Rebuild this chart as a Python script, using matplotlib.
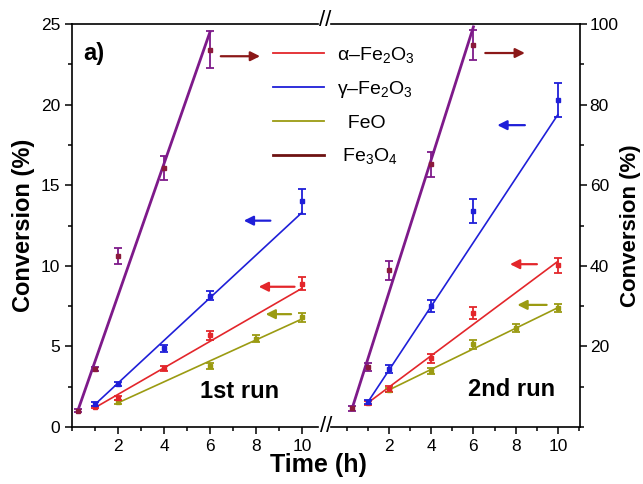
import numpy as np
import matplotlib.pyplot as plt
from matplotlib.lines import Line2D
from matplotlib.ticker import MultipleLocator

plt.rcParams['font.family'] = ['Liberation Sans', 'DejaVu Sans']
plt.rcParams['mathtext.fontset'] = 'custom'
plt.rcParams['mathtext.rm'] = 'Liberation Sans'
plt.rcParams['mathtext.default'] = 'rm'

# ---- 1st run (left axis, conversion %) ----
t1_fe3o4 = [0.25, 1, 2, 4, 6]
c1_fe3o4 = [1.0, 3.6, 10.6, 16.05, 23.4]
e1_fe3o4 = [0.1, 0.15, 0.5, 0.75, 1.15]
t1_gamma = [1, 2, 4, 6, 10]
c1_gamma = [1.42, 2.65, 4.87, 8.15, 14.0]
e1_gamma = [0.1, 0.12, 0.2, 0.3, 0.77]
t1_alpha = [1, 2, 4, 6, 10]
c1_alpha = [1.25, 1.78, 3.63, 5.68, 8.9]
e1_alpha = [0.08, 0.12, 0.15, 0.3, 0.43]
t1_feo = [2, 6, 8, 10]
c1_feo = [1.53, 3.77, 5.48, 6.8]
e1_feo = [0.12, 0.2, 0.22, 0.3]

# linear fits (end points)
fx1_fe3o4, fy1_fe3o4 = [0.25, 6], [1.0, 24.5]
fx1_gamma, fy1_gamma = [1, 10], [1.4, 13.3]
fx1_alpha, fy1_alpha = [1, 10], [1.2, 8.6]
fx1_feo, fy1_feo = [2, 10], [1.5, 6.7]

# ---- 2nd run (right axis, conversion %) ----
t2_fe3o4 = [0.25, 1, 2, 4, 6]
c2_fe3o4 = [4.6, 14.8, 38.9, 65.2, 94.7]
e2_fe3o4 = [0.6, 1.0, 2.4, 3.1, 3.7]
t2_gamma = [1, 2, 4, 6, 10]
c2_gamma = [6.2, 14.3, 30.0, 53.6, 81.2]
e2_gamma = [0.5, 1.0, 1.5, 2.9, 4.2]
t2_alpha = [1, 2, 4, 6, 10]
c2_alpha = [6.0, 9.4, 17.0, 28.3, 40.1]
e2_alpha = [0.5, 0.8, 1.0, 1.5, 1.8]
t2_feo = [2, 4, 6, 8, 10]
c2_feo = [9.2, 13.9, 20.5, 24.6, 29.6]
e2_feo = [0.5, 0.8, 1.2, 1.0, 1.0]

fx2_fe3o4, fy2_fe3o4 = [0.25, 6], [4.6, 99.3]
fx2_gamma, fy2_gamma = [1, 10], [6.2, 77.5]
fx2_alpha, fy2_alpha = [1, 10], [6.0, 41.1]
fx2_feo, fy2_feo = [2, 10], [9.2, 29.6]

# arrows: (tail x, head x, y)
arrows1 = {'fe3o4': (6.35, 8.3, 23.0), 'gamma': (8.75, 7.35, 12.8),
           'alpha': (9.8, 8.0, 8.7), 'feo': (9.65, 8.3, 7.0)}
arrows2 = {'fe3o4': (6.43, 8.57, 92.8), 'gamma': (8.57, 7.0, 74.9),
           'alpha': (9.14, 7.6, 40.4), 'feo': (9.6, 7.95, 30.3)}

labels = ['α–Fe$_2$O$_3$', 'γ–Fe$_2$O$_3$', '  FeO', ' Fe$_3$O$_4$']

col = {'alpha': '#e3262b', 'gamma': '#1f1fd8', 'feo': '#9b9b12',
       'fe3o4': '#7e1a8a', 'fe3o4_pt': '#8b1a3c', 'fe3o4_arrow': '#8b1818'}

fig = plt.figure(figsize=(6.43, 4.84), dpi=100)
ax1 = fig.add_axes([72/643, 57/484, 246/643, 403/484])
ax2 = fig.add_axes([331/643, 57/484, 249/643, 403/484])


def draw_run(ax, data, fits, arrows):
    for key in ['feo', 'alpha', 'gamma', 'fe3o4']:
        t, c, e = data[key]
        fx, fy = fits[key]
        lw = 2.0 if key == 'fe3o4' else 1.2
        ax.plot(fx, fy, color=col[key], lw=lw, zorder=2)
        mc = col['fe3o4_pt'] if key == 'fe3o4' else col[key]
        ax.errorbar(t, c, yerr=e, fmt='s', ms=3.5, color=mc, ecolor=col[key],
                    elinewidth=1.3, capsize=3, capthick=1.3, zorder=3)
        x0, x1, y = arrows[key]
        ac = col['fe3o4_arrow'] if key == 'fe3o4' else col[key]
        ax.annotate('', xy=(x1, y), xytext=(x0, y),
                    arrowprops=dict(arrowstyle='-|>', color=ac, lw=1.6,
                                    mutation_scale=14))


draw_run(ax1,
         {'fe3o4': (t1_fe3o4, c1_fe3o4, e1_fe3o4), 'gamma': (t1_gamma, c1_gamma, e1_gamma),
          'alpha': (t1_alpha, c1_alpha, e1_alpha), 'feo': (t1_feo, c1_feo, e1_feo)},
         {'fe3o4': (fx1_fe3o4, fy1_fe3o4), 'gamma': (fx1_gamma, fy1_gamma),
          'alpha': (fx1_alpha, fy1_alpha), 'feo': (fx1_feo, fy1_feo)},
         arrows1)
draw_run(ax2,
         {'fe3o4': (t2_fe3o4, c2_fe3o4, e2_fe3o4), 'gamma': (t2_gamma, c2_gamma, e2_gamma),
          'alpha': (t2_alpha, c2_alpha, e2_alpha), 'feo': (t2_feo, c2_feo, e2_feo)},
         {'fe3o4': (fx2_fe3o4, fy2_fe3o4), 'gamma': (fx2_gamma, fy2_gamma),
          'alpha': (fx2_alpha, fy2_alpha), 'feo': (fx2_feo, fy2_feo)},
         arrows2)

# axes limits / ticks
ax1.set_xlim(0, 10.7)
ax1.set_ylim(0, 25)
ax2.set_xlim(-0.75, 11.05)
ax2.set_ylim(0, 100)

ax1.set_xticks([2, 4, 6, 8, 10])
ax1.xaxis.set_minor_locator(MultipleLocator(1))
ax1.yaxis.set_major_locator(MultipleLocator(5))
ax1.yaxis.set_minor_locator(MultipleLocator(2.5))
ax2.set_xticks([2, 4, 6, 8, 10])
ax2.xaxis.set_minor_locator(MultipleLocator(1))
ax2.set_yticks([20, 40, 60, 80, 100])
ax2.yaxis.set_minor_locator(MultipleLocator(10))

for ax in (ax1, ax2):
    ax.tick_params(which='major', direction='out', length=5, width=1.1, labelsize=12.5)
    ax.tick_params(which='minor', direction='out', length=3, width=1.1)
    for s in ax.spines.values():
        s.set_linewidth(1.2)

ax1.spines['right'].set_visible(False)
ax2.spines['left'].set_visible(False)
ax1.tick_params(axis='y', which='both', right=False)
ax2.yaxis.tick_right()
ax2.tick_params(axis='y', which='both', left=False, pad=2)

ax1.set_ylabel('Conversion (%)', fontsize=17, fontweight='bold', labelpad=4)
ax2.yaxis.set_label_position('right')
ax2.set_ylabel('Conversion (%)', fontsize=16, fontweight='bold', labelpad=1)
fig.text(318/643, 19/484, 'Time (h)', fontsize=18, fontweight='bold',
         ha='center', va='center')

ax1.text(0.045, 0.928, 'a)', transform=ax1.transAxes, fontsize=17,
         fontweight='bold', ha='left', va='center')
ax1.text(0.52, 0.087, '1st run', transform=ax1.transAxes, fontsize=17,
         fontweight='bold', ha='left', va='center')
ax2.text(0.55, 0.092, '2nd run', transform=ax2.transAxes, fontsize=17,
         fontweight='bold', ha='left', va='center')

# axis break marks
fig.text(325/643, (484 - 21)/484, '//', fontsize=16, ha='center', va='center')
fig.text(326/643, 57/484, '//', fontsize=16, ha='center', va='center')

handles = [Line2D([], [], color=col[k], lw=1.3) for k in ['alpha', 'gamma', 'feo']]
handles.append(Line2D([], [], color='#6e1212', lw=2.0))
fig.legend(handles, labels, loc='upper left', bbox_to_anchor=(273/643, 0.908),
           frameon=False, fontsize=14, handlelength=2.6, handletextpad=0.7,
           labelspacing=0.74, borderpad=0, borderaxespad=0)

fig.savefig('out.png', dpi=100)
